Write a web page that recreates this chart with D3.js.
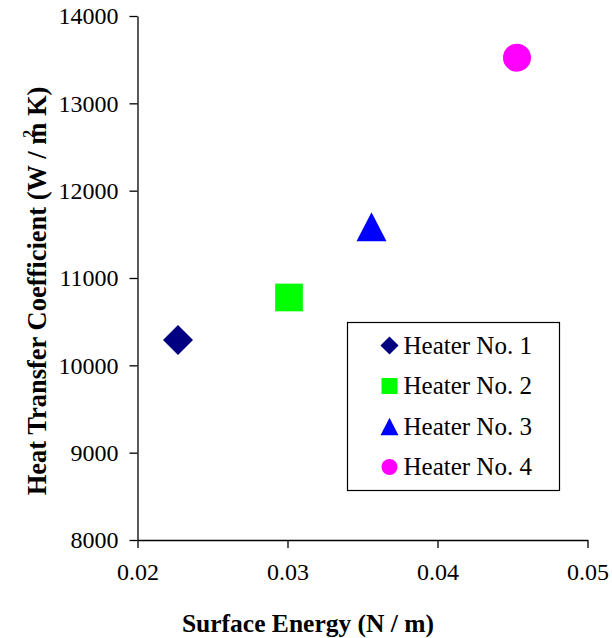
<!DOCTYPE html>
<html>
<head>
<meta charset="utf-8">
<script src="https://cdn.jsdelivr.net/npm/d3@7"></script>
<style>
  body { margin: 0; background: #fff; }
  text { font-family: "Liberation Serif", "Times New Roman", serif; }
</style>
</head>
<body>
<svg id="chart" width="612" height="638"></svg>
<script>
// data
const heaters = ['Heater No. 1', 'Heater No. 2', 'Heater No. 3', 'Heater No. 4'];
const surfaceEnergy = [0.0227, 0.0301, 0.0356, 0.0453];
const heatCoeff = [10290, 10777, 11586, 13523];
const colors = ['#000080', '#00ff00', '#0000ff', '#ff00ff'];
const shapes = ['diamond', 'square', 'triangle', 'circle'];
const xTicks = [0.02, 0.03, 0.04, 0.05];
const yTicks = [8000, 9000, 10000, 11000, 12000, 13000, 14000];

const svg = d3.select('#chart');

const x = d3.scaleLinear().domain([0.02, 0.05]).range([137.5, 587.5]);
const y = d3.scaleLinear().domain([8000, 14000]).range([540, 16]);

// triangle centred on its bounding box, w = base width
const triBox = {
  draw(ctx, w) {
    const h = w * 0.97;
    ctx.moveTo(0, -h / 2);
    ctx.lineTo(w / 2, h / 2);
    ctx.lineTo(-w / 2, h / 2);
    ctx.closePath();
  }
};

function markerPath(shape, big) {
  if (shape === 'diamond') return d3.symbol(d3.symbolSquare, big ? 450 : 165)();
  if (shape === 'square') return d3.symbol(d3.symbolSquare, big ? 767 : 256)();
  if (shape === 'triangle') return d3.symbol(triBox, big ? 30 : 18)();
  return d3.symbol(d3.symbolCircle, big ? 616 : 201)();
}

// axes
const xAxis = svg.append('g')
  .attr('transform', 'translate(0,540)')
  .call(d3.axisBottom(x).tickValues(xTicks).tickFormat(d3.format('.2f')).tickSize(8).tickSizeOuter(0));
const yAxis = svg.append('g')
  .attr('transform', 'translate(137.5,0)')
  .call(d3.axisLeft(y).tickValues(yTicks).tickFormat(d3.format('d')).tickSize(8).tickSizeOuter(0));

[xAxis, yAxis].forEach(function (g) {
  g.attr('font-family', null).attr('font-size', null);
  g.select('.domain').attr('stroke', '#000').attr('stroke-width', 1.3);
  g.selectAll('.tick line').attr('stroke', '#000').attr('stroke-width', 1.3);
  g.selectAll('.tick text')
    .attr('fill', '#000')
    .style('font-size', '24px');
});
xAxis.selectAll('.tick text').attr('y', 23);
yAxis.selectAll('.tick text').attr('x', -19);

// axis titles
svg.append('text')
  .attr('x', 308)
  .attr('y', 632)
  .attr('text-anchor', 'middle')
  .style('font-size', '25.5px')
  .style('font-weight', 'bold')
  .text('Surface Energy (N / m)');

const yTitle = svg.append('text')
  .attr('transform', 'translate(46,291) rotate(-90)')
  .attr('text-anchor', 'middle')
  .style('font-size', '26.5px')
  .style('font-weight', 'bold');
yTitle.append('tspan').text('Heat Transfer Coefficient (W / m');
yTitle.append('tspan').attr('dy', -12).attr('dx', -15).style('font-size', '16px').text('2');
yTitle.append('tspan').attr('dy', 12).attr('dx', 7).text(' K)');

// points
svg.selectAll('path.pt')
  .data(heaters)
  .enter()
  .append('path')
  .attr('class', 'pt')
  .attr('d', (d, i) => markerPath(shapes[i], true))
  .attr('transform', (d, i) => 'translate(' + x(surfaceEnergy[i]) + ',' + y(heatCoeff[i]) + ')' +
    (shapes[i] === 'diamond' ? ' rotate(45)' : ''))
  .attr('fill', (d, i) => colors[i]);

// legend
const legend = svg.append('g').attr('transform', 'translate(347.5,322.5)');
legend.append('rect')
  .attr('width', 212)
  .attr('height', 168)
  .attr('fill', '#fff')
  .attr('stroke', '#000')
  .attr('stroke-width', 1.2);

const item = legend.selectAll('g.item')
  .data(heaters)
  .enter()
  .append('g')
  .attr('class', 'item')
  .attr('transform', (d, i) => 'translate(0,' + (23 + i * 40.5) + ')');

item.append('path')
  .attr('d', (d, i) => markerPath(shapes[i], false))
  .attr('transform', (d, i) => 'translate(42,0)' + (shapes[i] === 'diamond' ? ' rotate(45)' : ''))
  .attr('fill', (d, i) => colors[i]);

item.append('text')
  .attr('x', 56)
  .attr('y', 8)
  .style('font-size', '25px')
  .text(d => d);
</script>
</body>
</html>
